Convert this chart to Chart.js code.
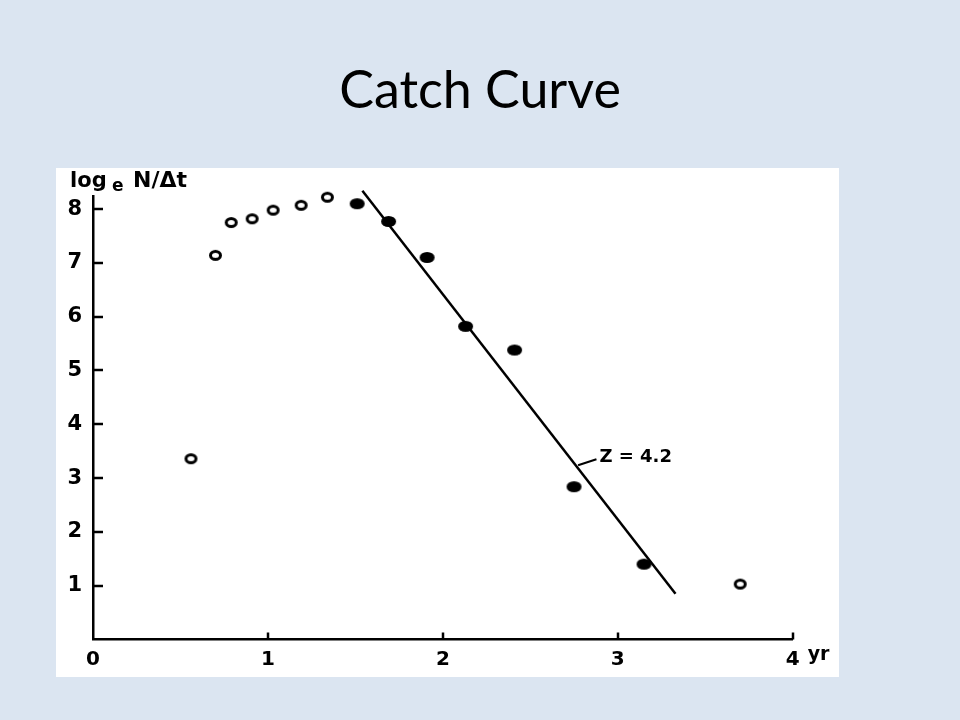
<!DOCTYPE html>
<html>
<head>
<title>Catch Curve</title>
<style>
body {
	margin: 0;
	background: #dbe5f1;
}
#chart {
	display: block;
}
</style>
<script src="https://cdn.jsdelivr.net/npm/chart.js@4/dist/chart.umd.min.js"></script>
</head>
<body>
	<canvas id="chart" width="960" height="720"></canvas>
	<script>
		// values
		const openX = [0.56, 0.70, 0.79, 0.91, 1.03, 1.19, 1.34, 3.70];
		const openY = [3.36, 7.14, 7.75, 7.82, 7.98, 8.07, 8.22, 1.03];
		const filledX = [1.51, 1.69, 1.91, 2.13, 2.41, 2.75, 3.15];
		const filledY = [8.10, 7.77, 7.10, 5.82, 5.38, 2.84, 1.40];
		const fitX = [1.54, 3.33];
		const fitY = [8.34, 0.85];
		const xTickValues = [0, 1, 2, 3, 4];
		const yTickValues = [1, 2, 3, 4, 5, 6, 7, 8];

		const titleText = 'Catch Curve';
		const zText = 'Z = 4.2';
		const xUnit = 'yr';

		function toPoints(xs, ys) {
			return xs.map((x, i) => ({x: x, y: ys[i]}));
		}

		function ellipseMarker(w, h, filled) {
			const c = document.createElement('canvas');
			c.width = w + 4;
			c.height = h + 4;
			const g = c.getContext('2d');
			g.beginPath();
			if (filled) {
				g.ellipse(c.width / 2, c.height / 2, w / 2, h / 2, 0, 0, Math.PI * 2);
				g.fillStyle = '#000';
				g.fill();
			} else {
				g.ellipse(c.width / 2, c.height / 2, w / 2 - 1.5, h / 2 - 1.5, 0, 0, Math.PI * 2);
				g.fillStyle = '#fff';
				g.fill();
				g.lineWidth = 3;
				g.strokeStyle = '#000';
				g.stroke();
			}
			return c;
		}

		const boldFont = '"DejaVu Sans", sans-serif';

		const slidePlugin = {
			id: 'slide',
			beforeDraw(chart) {
				const ctx = chart.ctx;
				ctx.save();
				ctx.fillStyle = '#dbe5f1';
				ctx.fillRect(0, 0, chart.width, chart.height);
				ctx.fillStyle = '#ffffff';
				ctx.fillRect(56, 168, 783, 509);
				ctx.fillStyle = '#000';
				ctx.font = '52px Lato, "Open Sans", sans-serif';
				ctx.textAlign = 'center';
				ctx.textBaseline = 'alphabetic';
				ctx.fillText(titleText, 480, 108);
				ctx.restore();
			},
			afterDraw(chart) {
				const ctx = chart.ctx;
				const xs = chart.scales.x;
				const ys = chart.scales.y;
				const x0 = xs.getPixelForValue(0);
				const y0 = ys.getPixelForValue(0);
				ctx.save();
				ctx.strokeStyle = '#000';
				ctx.fillStyle = '#000';
				ctx.lineWidth = 2.5;
				// inward ticks
				yTickValues.forEach(v => {
					const py = Math.round(ys.getPixelForValue(v));
					ctx.beginPath();
					ctx.moveTo(x0, py);
					ctx.lineTo(x0 + 10, py);
					ctx.stroke();
				});
				xTickValues.slice(1).forEach(v => {
					const px = Math.round(xs.getPixelForValue(v));
					ctx.beginPath();
					ctx.moveTo(px, y0);
					ctx.lineTo(px, y0 - 7);
					ctx.stroke();
				});
				// Z label with leader
				ctx.lineWidth = 2;
				ctx.beginPath();
				ctx.moveTo(xs.getPixelForValue(2.773), ys.getPixelForValue(3.24));
				ctx.lineTo(xs.getPixelForValue(2.878), ys.getPixelForValue(3.35));
				ctx.stroke();
				ctx.font = 'bold 18px ' + boldFont;
				ctx.textAlign = 'left';
				ctx.textBaseline = 'middle';
				ctx.fillText(zText, xs.getPixelForValue(2.895), ys.getPixelForValue(3.38));
				// unit after last x tick
				ctx.font = 'bold 19px ' + boldFont;
				ctx.textBaseline = 'alphabetic';
				ctx.fillText(xUnit, xs.getPixelForValue(4) + 15, 660);
				// y axis title: log_e N/Δt
				ctx.font = 'bold 21px ' + boldFont;
				ctx.fillText('log', 70, 187);
				ctx.font = 'bold 17px ' + boldFont;
				ctx.fillText('e', 112, 191);
				ctx.font = 'bold 22px ' + boldFont;
				ctx.fillText('N/Δt', 133, 187);
				ctx.restore();
			}
		};

		const ctx = document.getElementById('chart').getContext('2d');
		const myChart = new Chart(ctx, {
			type: 'scatter',
			data: {
				datasets: [
					{
						label: 'fit',
						type: 'line',
						data: toPoints(fitX, fitY),
						borderColor: '#000',
						borderWidth: 2.5,
						pointRadius: 0,
						fill: false,
						clip: false,
						order: 3
					},
					{
						label: 'used',
						data: toPoints(filledX, filledY),
						pointStyle: ellipseMarker(15, 11, true),
						clip: false,
						order: 1
					},
					{
						label: 'not used',
						data: toPoints(openX, openY),
						pointStyle: ellipseMarker(13, 11, false),
						clip: false,
						order: 2
					}
				]
			},
			options: {
				responsive: false,
				animation: false,
				events: [],
				layout: {
					padding: {top: 196.7, right: 167.3, left: 0, bottom: 0}
				},
				plugins: {
					legend: {display: false},
					tooltip: {enabled: false},
					title: {display: false}
				},
				scales: {
					x: {
						type: 'linear',
						min: 0,
						max: 4,
						afterFit: scale => { scale.height = 80.5; },
						border: {display: true, color: '#000', width: 2.5},
						grid: {drawOnChartArea: false, drawTicks: false},
						ticks: {
							stepSize: 1,
							includeBounds: false,
							padding: 8,
							color: '#000',
							font: {family: boldFont, size: 20, weight: 'bold'},
							maxRotation: 0
						}
					},
					y: {
						type: 'linear',
						min: 0,
						max: 8.23,
						afterFit: scale => { scale.width = 93; },
						border: {display: true, color: '#000', width: 2.5},
						grid: {drawOnChartArea: false, drawTicks: false},
						ticks: {
							stepSize: 1,
							includeBounds: false,
							padding: 11,
							color: '#000',
							font: {family: boldFont, size: 21, weight: 'bold'},
							callback: v => (v === 0 ? '' : v)
						}
					}
				}
			},
			plugins: [slidePlugin]
		});
	</script>
</body>
</html>
